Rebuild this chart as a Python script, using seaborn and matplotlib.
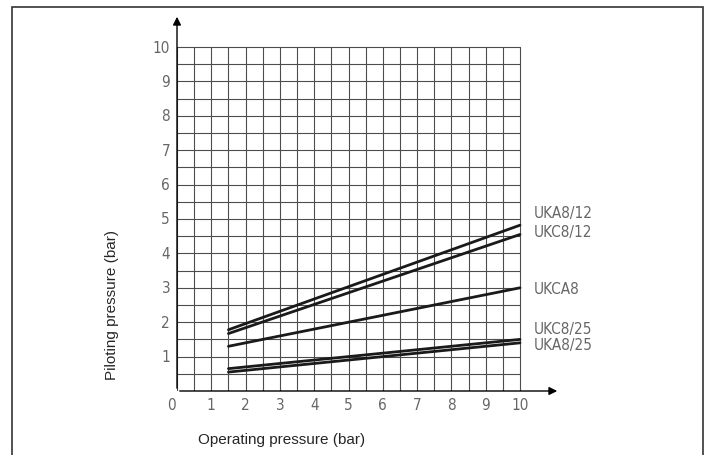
import numpy as np
import pandas as pd
import matplotlib
matplotlib.use('Agg')
import matplotlib.pyplot as plt
from matplotlib.patches import Rectangle
import seaborn as sns

# data
series = ['UKA8/12', 'UKC8/12', 'UKCA8', 'UKC8/25', 'UKA8/25']
operating = [1.5, 10]
piloting = {
    'UKA8/12': [1.78, 4.82],
    'UKC8/12': [1.67, 4.55],
    'UKCA8': [1.30, 3.00],
    'UKC8/25': [0.65, 1.50],
    'UKA8/25': [0.55, 1.40],
}
label_y = [5.2, 4.65, 2.97, 1.83, 1.34]
x_ticks = list(range(0, 11))
y_ticks = list(range(1, 11))

rows = []
for name in series:
    for xv, yv in zip(operating, piloting[name]):
        rows.append({'series': name, 'operating': xv, 'piloting': yv})
df = pd.DataFrame(rows)

sns.set_style('white')
plt.rcParams['font.family'] = ['DejaVu Sans']

fig = plt.figure(figsize=(7.12, 4.56), dpi=100)
ax = fig.add_axes([177 / 712, 64 / 456, 383 / 712, 377 / 456])

# grid (drawn by hand so it stops at 10)
for v in np.arange(0, 10.01, 0.5):
    ax.plot([v, v], [0, 10], color='#4d4d4d', lw=0.8, zorder=1)
    ax.plot([0, 10], [v, v], color='#4d4d4d', lw=0.8, zorder=1)

sns.lineplot(data=df, x='operating', y='piloting', units='series', estimator=None,
             color='#1a1a1a', lw=2.0, ax=ax, zorder=3)

ax.set_xlim(0, 383 / 34.3)
ax.set_ylim(0, 377 / 34.4)
for s in ax.spines.values():
    s.set_visible(False)
ax.set_xticks([])
ax.set_yticks([])
ax.set_xlabel('')
ax.set_ylabel('')

# axis arrows
ax.annotate('', xy=(383 / 34.3, 0), xytext=(0, 0),
            arrowprops=dict(arrowstyle='-|>', color='black', lw=1.0, mutation_scale=12))
ax.annotate('', xy=(0, 377 / 34.4), xytext=(0, 0),
            arrowprops=dict(arrowstyle='-|>', color='black', lw=1.0, mutation_scale=12))

tick_font = dict(fontsize=11, color='#666666', fontstretch='condensed', fontweight='light')
for t in x_ticks:
    ax.text(t - (0.15 if t == 0 else 0), -0.38, str(t), ha='center', va='center', **tick_font)
for t in y_ticks:
    ax.text(-0.2, t, str(t), ha='right', va='center', **tick_font)

for name, ly in zip(series, label_y):
    ax.text(10.4, ly, name, ha='left', va='center', **tick_font)

fig.text(198 / 712, 1 - 440 / 456, 'Operating pressure (bar)', fontsize=11,
         family='Liberation Sans', ha='left', va='center')
fig.text(112 / 712, 1 - 305 / 456, 'Piloting pressure (bar)', fontsize=11,
         family='Liberation Sans', rotation=90, ha='center', va='center')

fig.patches.append(Rectangle((12 / 712, -0.05), (703 - 12) / 712, 1.05 - 8 / 456,
                             transform=fig.transFigure, fill=False, ec='#333333', lw=1.2))

fig.savefig('out.png', dpi=100)
